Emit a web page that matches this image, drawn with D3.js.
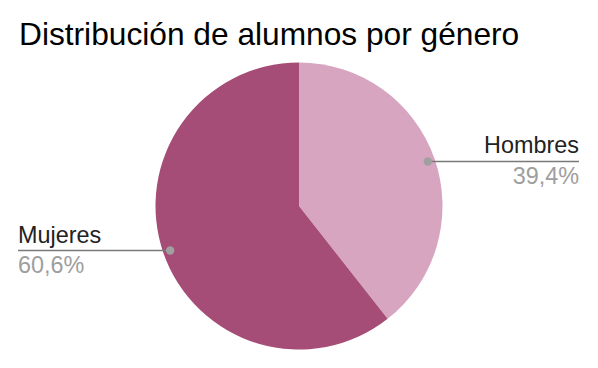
<!DOCTYPE html>
<html><head><meta charset="utf-8">
<script src="https://cdn.jsdelivr.net/npm/d3@7"></script>
<style>html,body{margin:0;padding:0;background:#fff;}svg{display:block;}</style>
</head><body>
<svg id="chart" width="598" height="368"></svg>
<script>
const title = "Distribución de alumnos por género";
const categories = ["Hombres", "Mujeres"];
const values = [39.4, 60.6];
const percentLabels = ["39,4%", "60,6%"];
const colors = ["#d7a5bf", "#a54d76"];

const W = 598, H = 368;
const cx = 299, cy = 206, R = 143.5;
const svg = d3.select("#chart");
const font = "Arial, 'Liberation Sans', sans-serif";

svg.append("text").attr("x", 19).attr("y", 45)
  .attr("font-family", font).attr("font-size", 31.7).attr("fill", "#000")
  .text(title);

const data = categories.map((c, i) => ({cat: c, value: values[i], pct: percentLabels[i], color: colors[i]}));
const pie = d3.pie().value(d => d.value).sort(null);
const arcs = pie(data);
const arc = d3.arc().innerRadius(0).outerRadius(R);
const dotArc = d3.arc().innerRadius(R * 0.95).outerRadius(R * 0.95);

const g = svg.append("g").attr("transform", `translate(${cx},${cy})`);
g.selectAll("path").data(arcs).enter().append("path")
  .attr("d", arc).attr("fill", d => d.data.color);

const fs = 23.4;
arcs.forEach(a => {
  const [dx, dy] = dotArc.centroid(a);
  const px = cx + dx, py = cy + dy;
  const right = px > cx;
  const lineEnd = right ? 579 : 18;
  svg.append("line").attr("x1", px).attr("y1", py).attr("x2", lineEnd).attr("y2", py)
    .attr("stroke", "#7a7a7a").attr("stroke-width", 1.6);
  svg.append("circle").attr("cx", px).attr("cy", py).attr("r", 4.2).attr("fill", "#a0a0a0");
  svg.append("text").attr("x", lineEnd).attr("y", py - 8)
    .attr("text-anchor", right ? "end" : "start")
    .attr("font-family", font).attr("font-size", fs).attr("fill", "#222")
    .text(a.data.cat);
  svg.append("text").attr("x", lineEnd).attr("y", py + 22.5)
    .attr("text-anchor", right ? "end" : "start")
    .attr("font-family", font).attr("font-size", fs).attr("fill", "#9e9e9e")
    .text(a.data.pct);
});
</script>
</body></html>
